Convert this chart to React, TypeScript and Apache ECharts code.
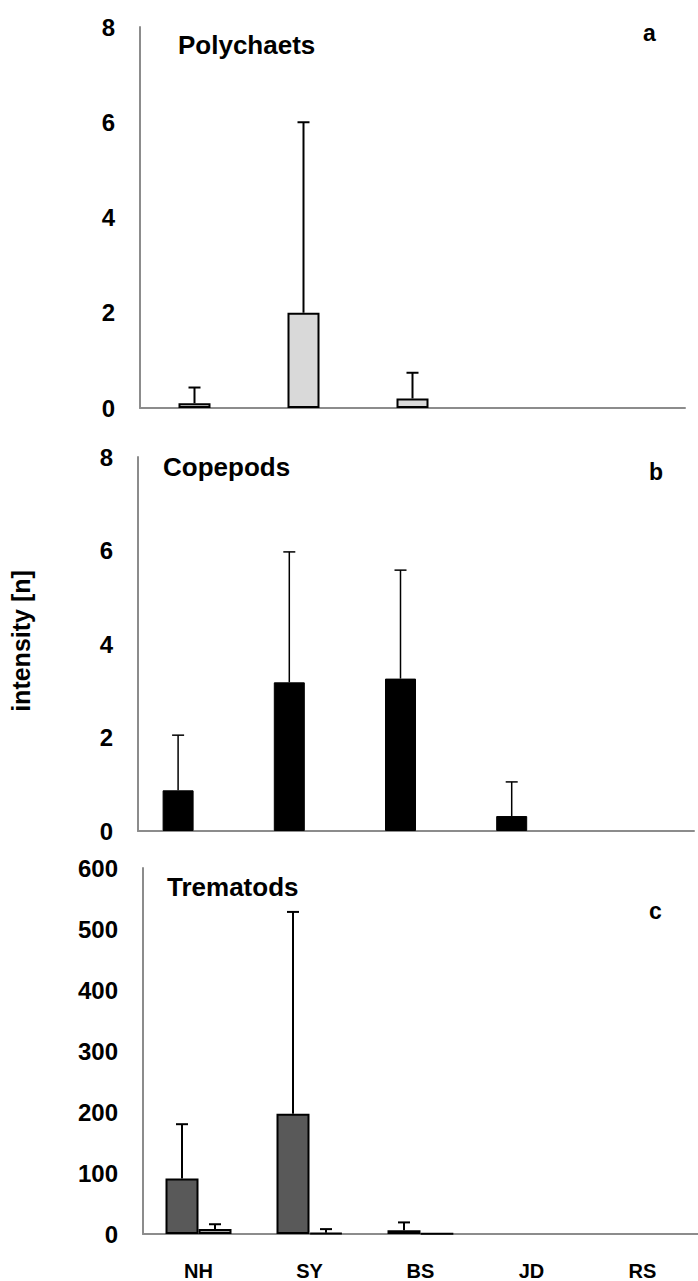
import React, { useEffect, useRef } from "react";
import * as echarts from "echarts";

const categories = ["NH", "SY", "BS", "JD", "RS"];

const polyMean = [0.1, 2.0, 0.2, 0, 0];
const polyErrTop = [0.43, 6.0, 0.74, 0, 0];

const copeMean = [0.87, 3.18, 3.26, 0.32, 0];
const copeErrTop = [2.05, 5.97, 5.58, 1.05, 0];
const copeSecond = [0, 0, 0, 0, 0];

const tremaMeanA = [91, 197, 6, 0, 0];
const tremaErrTopA = [180, 528, 19, 0, 0];
const tremaMeanB = [8, 2, 0.5, 0, 0];
const tremaErrTopB = [16, 8, 0, 0, 0];

const yTicksSmall = { min: 0, max: 8, interval: 2 };
const yTicksLarge = { min: 0, max: 600, interval: 100 };

const FONT = "'Liberation Sans', Arial, Helvetica, sans-serif";
const AXIS_GRAY = "#8c8c8c";

function barData(vals: number[]) {
  return vals.map((v) => (v === 0 ? "-" : v));
}

function errData(means: number[], tops: number[]) {
  const out: any[] = [];
  means.forEach((m, i) => {
    if (tops[i] > m) out.push([i, m, tops[i]]);
  });
  return out;
}

function errSeries(gridIdx: number, means: number[], tops: number[], offset: number, lw: number) {
  return {
    type: "custom",
    xAxisIndex: gridIdx,
    yAxisIndex: gridIdx,
    z: 5,
    data: errData(means, tops),
    renderItem: (params: any, api: any) => {
      const base = api.coord([api.value(0), api.value(1)]);
      const top = api.coord([api.value(0), api.value(2)]);
      const cx = base[0] + offset;
      const style = { stroke: "#000", lineWidth: lw };
      return {
        type: "group",
        children: [
          { type: "line", shape: { x1: cx, y1: base[1], x2: cx, y2: top[1] }, style },
          { type: "line", shape: { x1: cx - 6, y1: top[1], x2: cx + 6, y2: top[1] }, style },
        ],
      };
    },
  };
}

function xAxis(gridIdx: number, showLabels: boolean) {
  return {
    type: "category",
    gridIndex: gridIdx,
    data: categories,
    axisLine: { show: true, lineStyle: { color: AXIS_GRAY, width: 2 } },
    axisTick: { show: false },
    axisLabel: {
      show: showLabels,
      color: "#000",
      fontWeight: "bold",
      fontSize: 20,
      fontFamily: "'Liberation Sans Narrow', 'Arial Narrow', " + FONT,
      margin: 27,
    },
    splitLine: { show: false },
  };
}

function yAxis(gridIdx: number, t: { min: number; max: number; interval: number }) {
  return {
    type: "value",
    gridIndex: gridIdx,
    min: t.min,
    max: t.max,
    interval: t.interval,
    axisLine: { show: true, lineStyle: { color: AXIS_GRAY, width: 2 } },
    axisTick: { show: false },
    splitLine: { show: false },
    axisLabel: {
      color: "#000",
      fontWeight: "bold",
      fontSize: 24,
      fontFamily: FONT,
      margin: 25,
    },
  };
}

export default function App() {
  const ref = useRef<HTMLDivElement>(null);
  useEffect(() => {
    if (!ref.current) return;
    const chart = echarts.init(ref.current, undefined, { renderer: "svg" });
    const titleStyle = { fill: "#000", fontWeight: "bold", fontSize: 26, fontFamily: FONT };
    chart.setOption({
      animation: false,
      backgroundColor: "#fff",
      grid: [
        { left: 140, right: 13, top: 27, height: 381 },
        { left: 138, right: 4, top: 457, height: 374 },
        { left: 143, right: -10, top: 868, height: 369 },
      ],
      xAxis: [xAxis(0, false), xAxis(1, false), xAxis(2, true)],
      yAxis: [yAxis(0, yTicksSmall), yAxis(1, yTicksSmall), yAxis(2, yTicksLarge)],
      graphic: [
        { type: "text", left: 178, top: 32, style: { ...titleStyle, text: "Polychaets" } },
        { type: "text", left: 163, top: 454, style: { ...titleStyle, text: "Copepods" } },
        { type: "text", left: 167, top: 874, style: { ...titleStyle, text: "Trematods" } },
        { type: "text", left: 643, top: 21, style: { ...titleStyle, fontSize: 23, text: "a" } },
        { type: "text", left: 649, top: 460, style: { ...titleStyle, fontSize: 23, text: "b" } },
        { type: "text", left: 649, top: 899, style: { ...titleStyle, fontSize: 23, text: "c" } },
        {
          type: "text",
          x: 21,
          y: 641,
          rotation: Math.PI / 2,
          style: {
            ...titleStyle,
            fontSize: 25,
            text: "intensity [n]",
            align: "center",
            verticalAlign: "middle",
          },
        },
      ],
      series: [
        {
          type: "bar",
          xAxisIndex: 0,
          yAxisIndex: 0,
          barWidth: 32,
          data: barData(polyMean),
          itemStyle: { color: "#d9d9d9", borderColor: "#000", borderWidth: 2 },
        },
        errSeries(0, polyMean, polyErrTop, 0, 2),
        {
          type: "bar",
          xAxisIndex: 1,
          yAxisIndex: 1,
          barWidth: 31,
          barGap: "0%",
          data: barData(copeMean),
          itemStyle: { color: "#000", borderColor: "#000", borderWidth: 1 },
        },
        {
          type: "bar",
          xAxisIndex: 1,
          yAxisIndex: 1,
          barWidth: 31,
          barGap: "0%",
          data: barData(copeSecond),
          itemStyle: { color: "#a6a6a6", borderColor: "#000", borderWidth: 1 },
        },
        errSeries(1, copeMean, copeErrTop, -15.5, 1.5),
        {
          type: "bar",
          xAxisIndex: 2,
          yAxisIndex: 2,
          barWidth: 33,
          barGap: "0%",
          data: barData(tremaMeanA),
          itemStyle: { color: "#595959", borderColor: "#000", borderWidth: 2 },
        },
        {
          type: "bar",
          xAxisIndex: 2,
          yAxisIndex: 2,
          barWidth: 33,
          barGap: "0%",
          data: barData(tremaMeanB),
          itemStyle: { color: "#a6a6a6", borderColor: "#000", borderWidth: 2 },
        },
        errSeries(2, tremaMeanA, tremaErrTopA, -16.5, 2),
        errSeries(2, tremaMeanB, tremaErrTopB, 16.5, 2),
      ],
    });
    return () => chart.dispose();
  }, []);
  return (
    <div
      ref={ref}
      style={{ position: "fixed", left: 0, top: 0, width: 698, height: 1281, background: "#fff" }}
    />
  );
}
